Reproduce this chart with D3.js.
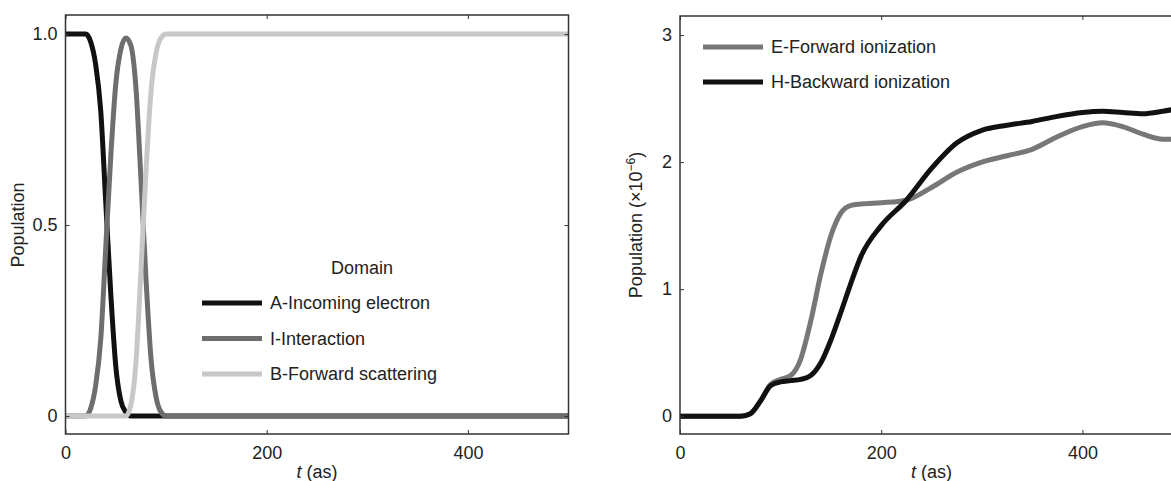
<!DOCTYPE html>
<html>
<head>
<meta charset="utf-8">
<script src="https://cdn.jsdelivr.net/npm/d3@7"></script>
<style>
  body { margin: 0; background: #fff; }
  text { font-family: "Liberation Sans", Arial, sans-serif; fill: #222; }
</style>
</head>
<body>
<div id="chart"></div>
<script>
// left panel: domain populations vs time (as)
var tLeft = [0, 10, 20, 25, 30, 35, 40, 45, 50, 55, 60, 65, 70, 75, 80, 85, 90, 95, 100, 110, 200, 300, 400, 500]
var popA  = [1, 1, 1, 0.98, 0.92, 0.8, 0.56, 0.32, 0.13, 0.04, 0.01, 0, 0, 0, 0, 0, 0, 0, 0, 0, 0, 0, 0, 0]
var popI  = [0, 0, 0, 0.02, 0.08, 0.2, 0.44, 0.68, 0.87, 0.96, 0.99, 0.97, 0.86, 0.62, 0.36, 0.15, 0.05, 0.01, 0, 0, 0, 0, 0, 0]
var popB  = [0, 0, 0, 0, 0, 0, 0, 0, 0, 0, 0, 0.03, 0.14, 0.38, 0.64, 0.85, 0.95, 0.99, 1, 1, 1, 1, 1, 1]
var leftNames = ['A-Incoming electron', 'I-Interaction', 'B-Forward scattering']

// right panel: ionization populations (x1e-6)
var tRight = [0, 30, 60, 70, 80, 90, 100, 110, 120, 130, 140, 150, 160, 170, 180, 200, 225, 250, 275, 300, 325, 350, 375, 400, 420, 440, 460, 480, 500]
var popE   = [0, 0, 0, 0.02, 0.12, 0.25, 0.29, 0.32, 0.45, 0.75, 1.12, 1.42, 1.6, 1.66, 1.67, 1.68, 1.7, 1.8, 1.92, 2.0, 2.05, 2.1, 2.2, 2.28, 2.31, 2.28, 2.22, 2.18, 2.18]
var popH   = [0, 0, 0, 0.02, 0.12, 0.24, 0.27, 0.28, 0.29, 0.32, 0.42, 0.6, 0.82, 1.05, 1.26, 1.5, 1.7, 1.95, 2.15, 2.25, 2.29, 2.32, 2.36, 2.39, 2.4, 2.39, 2.38, 2.4, 2.43]
var rightNames = ['E-Forward ionization', 'H-Backward ionization']

var xTicks = [0, 200, 400]
var leftYTicks = [0, 0.5, 1]
var rightYTicks = [0, 1, 2, 3]

var W = 1171, H = 481

var svg = d3.select('#chart').append('svg')
    .attr('width', W)
    .attr('height', H)

function panel(opt) {
    var x = d3.scaleLinear().domain([0, 500]).range([opt.left, opt.left + 503])
    var y = d3.scaleLinear().domain(opt.yDomain).range([434, opt.top])

    var g = svg.append('g')

    var clipId = 'clip' + opt.id
    svg.append('clipPath').attr('id', clipId)
        .append('rect')
        .attr('x', x.range()[0]).attr('y', y.range()[1])
        .attr('width', x.range()[1] - x.range()[0])
        .attr('height', y.range()[0] - y.range()[1])

    var line = d3.line()
        .curve(d3.curveMonotoneX)
        .x(function(d) { return x(d[0]) })
        .y(function(d) { return y(d[1]) })

    opt.series.forEach(function(s) {
        g.append('path')
            .attr('clip-path', 'url(#' + clipId + ')')
            .attr('fill', 'none')
            .attr('stroke', s.color)
            .attr('stroke-width', 5)
            .attr('stroke-linejoin', 'round')
            .attr('d', line(opt.t.map(function(t, i) { return [t, s.values[i]] })))
    })

    // frame
    g.append('rect')
        .attr('x', x.range()[0]).attr('y', y.range()[1])
        .attr('width', x.range()[1] - x.range()[0])
        .attr('height', y.range()[0] - y.range()[1])
        .attr('fill', 'none')
        .attr('stroke', '#333')
        .attr('stroke-width', 1.5)

    var xAxis = d3.axisBottom(x).tickValues(xTicks).tickSizeInner(-4).tickSizeOuter(0).tickPadding(12)
    var xAxisTop = d3.axisTop(x).tickValues(xTicks).tickSizeInner(-4).tickSizeOuter(0).tickFormat('')
    var yAxis = d3.axisLeft(y).tickValues(opt.yTicks).tickSizeInner(-4).tickSizeOuter(0).tickPadding(8).tickFormat(opt.yFormat)
    var yAxisRight = d3.axisRight(y).tickValues(opt.yTicks).tickSizeInner(-4).tickSizeOuter(0).tickFormat('')

    ;[
        [xAxis, 'translate(0,434)'],
        [xAxisTop, 'translate(0,' + opt.top + ')'],
        [yAxis, 'translate(' + opt.left + ',0)'],
        [yAxisRight, 'translate(' + (opt.left + 503) + ',0)']
    ].forEach(function(a) {
        var ax = g.append('g').attr('transform', a[1]).call(a[0])
        ax.select('.domain').remove()
        ax.selectAll('line').attr('stroke', '#333').attr('stroke-width', 1)
        ax.selectAll('text').style('font-size', '18px').attr('fill', '#222')
            .style('font-family', '"Liberation Sans", Arial, sans-serif')
    })

    // x label
    var xl = g.append('text')
        .attr('x', opt.left + 251.5)
        .attr('y', 478)
        .attr('text-anchor', 'middle')
        .style('font-size', '18px')
    xl.append('tspan').style('font-style', 'italic').text('t')
    xl.append('tspan').text(' (as)')

    // legend
    var lg = g.append('g')
    if (opt.legendTitle) {
        lg.append('text')
            .attr('x', opt.legend.x + 160)
            .attr('y', opt.legend.y - 35)
            .attr('dy', '0.35em')
            .attr('text-anchor', 'middle')
            .style('font-size', '18px')
            .text(opt.legendTitle)
    }
    opt.series.forEach(function(s, i) {
        var ly = opt.legend.y + i * opt.legend.step
        lg.append('line')
            .attr('x1', opt.legend.x).attr('x2', opt.legend.x + 60)
            .attr('y1', ly).attr('y2', ly)
            .attr('stroke', s.color)
            .attr('stroke-width', 5)
        lg.append('text')
            .attr('x', opt.legend.x + 68)
            .attr('y', ly)
            .attr('dy', '0.35em')
            .style('font-size', '18px')
            .text(s.name)
    })
    return g
}

panel({
    id: 'L', left: 65.5, top: 15,
    yDomain: [-0.047, 1.05],
    yTicks: leftYTicks,
    yFormat: function(d) { return d === 0 ? '0' : d.toFixed(1) },
    t: tLeft,
    series: [
        { name: leftNames[0], values: popA, color: '#111' },
        { name: leftNames[1], values: popI, color: '#6e6e6e' },
        { name: leftNames[2], values: popB, color: '#c8c8c8' }
    ],
    legendTitle: 'Domain',
    legend: { x: 202, y: 303, step: 35.5 }
})

panel({
    id: 'R', left: 680, top: 16,
    yDomain: [-0.14, 3.15],
    yTicks: rightYTicks,
    yFormat: function(d) { return d },
    t: tRight,
    series: [
        { name: rightNames[0], values: popE, color: '#777' },
        { name: rightNames[1], values: popH, color: '#111' }
    ],
    legend: { x: 703, y: 47, step: 35 }
})

// y labels
svg.append('text')
    .attr('transform', 'translate(24,225) rotate(-90)')
    .attr('text-anchor', 'middle')
    .style('font-size', '18px')
    .text('Population')

var yr = svg.append('text')
    .attr('transform', 'translate(642,225) rotate(-90)')
    .attr('text-anchor', 'middle')
    .style('font-size', '18px')
yr.append('tspan').text('Population (\u00d710')
yr.append('tspan').attr('dy', -7).style('font-size', '12px').text('\u22126')
yr.append('tspan').attr('dy', 7).text(')')
</script>
</body>
</html>
